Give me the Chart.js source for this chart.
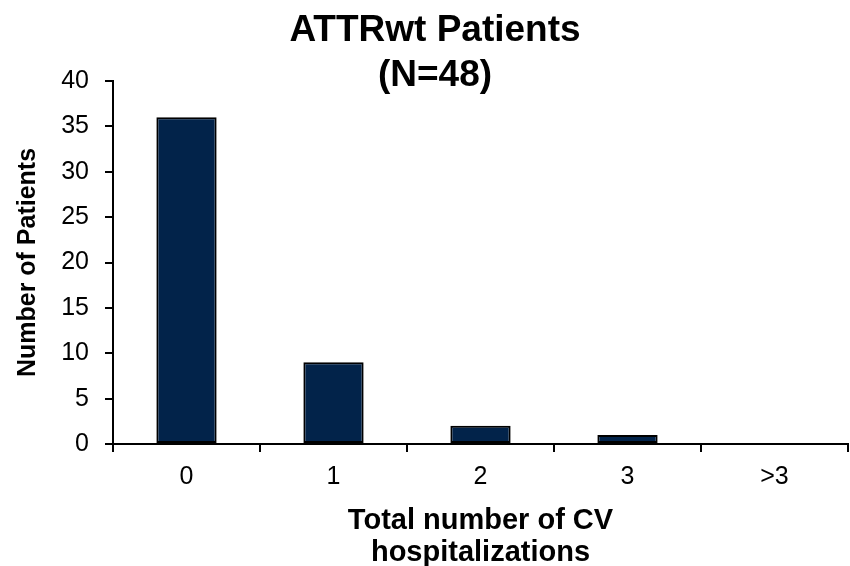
<!DOCTYPE html>
<html>
<head>
<meta charset="utf-8">
<script src="https://cdn.jsdelivr.net/npm/chart.js@4.4.0/dist/chart.umd.min.js"></script>
<style>
  html, body { margin: 0; padding: 0; background: #fff; }
  #wrap { width: 850px; height: 566px; }
</style>
</head>
<body>
<div id="wrap"><canvas id="myChart" width="850" height="566"></canvas></div>
<script>
// data
const categories = ['0', '1', '2', '3', '>3'];
const patients = [36, 9, 2, 1, 0];
const titleLines = ['ATTRwt Patients', '(N=48)'];
const xTitleLines = ['Total number of CV', 'hospitalizations'];
const yTitle = 'Number of Patients';

const fontFamily = '"Liberation Sans", Arial, sans-serif';

// title is drawn over the top of the plot, like the original
const titlePlugin = {
  id: 'topTitle',
  afterDraw(chart) {
    const ctx = chart.ctx;
    ctx.save();
    ctx.fillStyle = '#000';
    ctx.font = 'bold 37px ' + fontFamily;
    ctx.textAlign = 'center';
    ctx.textBaseline = 'middle';
    ctx.fillText(titleLines[0], 435, 31);
    ctx.fillText(titleLines[1], 435, 76);
    ctx.restore();
  }
};

const ctx = document.getElementById('myChart');
const myChart = new Chart(ctx, {
  type: 'bar',
  data: {
    labels: categories,
    datasets: [{
      data: patients,
      backgroundColor: '#02234a',
      borderColor: '#000',
      borderWidth: 2,
      borderSkipped: false,
      categoryPercentage: 1,
      barPercentage: 0.41
    }]
  },
  options: {
    responsive: false,
    animation: false,
    layout: { padding: { left: 0, right: 2, top: 81, bottom: 0 } },
    plugins: {
      legend: { display: false },
      tooltip: { enabled: false }
    },
    scales: {
      x: {
        grid: {
          display: true,
          offset: true,
          drawOnChartArea: false,
          drawTicks: true,
          tickLength: 8,
          color: '#000',
          lineWidth: 2
        },
        border: { display: true, color: '#000', width: 2 },
        ticks: {
          color: '#000',
          padding: 10,
          font: { family: fontFamily, size: 25 }
        },
        title: {
          display: true,
          text: xTitleLines,
          color: '#000',
          padding: { top: 10, bottom: -3 },
          font: { family: fontFamily, size: 29, weight: 'bold', lineHeight: 1.1 }
        },
        afterFit(scale) { scale.height = 122; }
      },
      y: {
        min: 0,
        max: 40,
        ticks: {
          stepSize: 5,
          color: '#000',
          padding: 16,
          font: { family: fontFamily, size: 25 }
        },
        grid: {
          display: true,
          drawOnChartArea: false,
          drawTicks: true,
          tickLength: 8,
          color: '#000',
          lineWidth: 2
        },
        border: { display: true, color: '#000', width: 2 },
        title: {
          display: true,
          text: yTitle,
          color: '#000',
          padding: { top: 13, bottom: 0 },
          font: { family: fontFamily, size: 25, weight: 'bold' }
        },
        afterFit(scale) { scale.width = 113; }
      }
    }
  },
  plugins: [titlePlugin]
});
</script>
</body>
</html>
